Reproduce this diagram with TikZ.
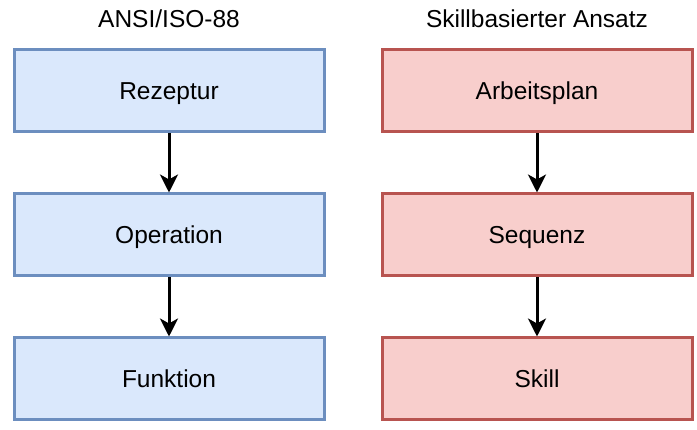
\documentclass[tikz,border=0pt]{standalone}
\usepackage{fontspec}
\setmainfont{Liberation Sans}
\usetikzlibrary{arrows.meta}
\definecolor{bluefill}{HTML}{DAE8FC}
\definecolor{bluedraw}{HTML}{6C8EBF}
\definecolor{redfill}{HTML}{F8CECC}
\definecolor{reddraw}{HTML}{B85450}
\begin{document}
\begin{tikzpicture}[x=1pt,y=-1pt,
  every node/.style={font=\fontsize{24.5}{29}\selectfont, text height=17.5pt, text depth=0pt, inner sep=0pt},
  bluebox/.style={draw=bluedraw, fill=bluefill, line width=3pt, minimum width=310pt, minimum height=82pt},
  redbox/.style={draw=reddraw, fill=redfill, line width=3pt, minimum width=310pt, minimum height=82pt},
  title/.style={},
  conn/.style={line width=3pt, -{Stealth[length=18pt,width=18pt,inset=5pt]}}]
\useasboundingbox (0,0) rectangle (697,430);
\node[title] (tl) at (169,18.5) {ANSI/ISO-88};
\node[title] (tr) at (537,18.5) {Skillbasierter Ansatz};
\node[bluebox] (l1) at (169,91) {Rezeptur};
\node[bluebox] (l2) at (169,235) {Operation};
\node[bluebox] (l3) at (169,379) {Funktion};
\node[redbox] (r1) at (537,91) {Arbeitsplan};
\node[redbox] (r2) at (537,235) {Sequenz};
\node[redbox] (r3) at (537,379) {Skill};
\draw[conn] (l1) -- (l2);
\draw[conn] (l2) -- (l3);
\draw[conn] (r1) -- (r2);
\draw[conn] (r2) -- (r3);
\end{tikzpicture}
\end{document}
